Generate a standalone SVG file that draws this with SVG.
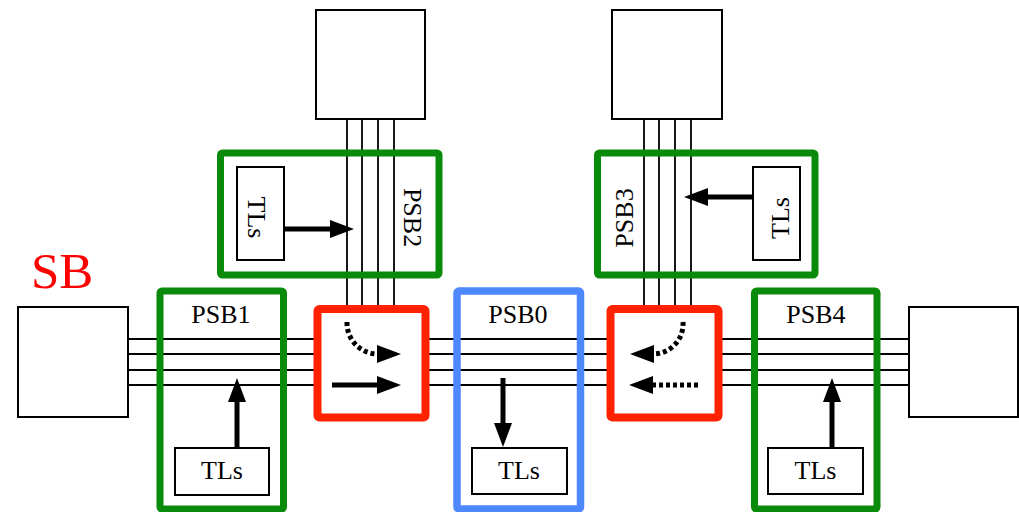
<svg xmlns="http://www.w3.org/2000/svg" width="1019" height="512" viewBox="0 0 1019 512">
<style>
  .wire { stroke: #000; stroke-width: 1.8; fill: none; }
  .blk { fill: #fff; stroke: #000; stroke-width: 2; }
  .tl { fill: #fff; stroke: #000; stroke-width: 2; }
  .green { fill: none; stroke: #0a8a0a; stroke-width: 7; }
  .red { fill: #fff; stroke: #ff2200; stroke-width: 8; }
  .blue { fill: none; stroke: #4d88ff; stroke-width: 7.5; }
  .lbl { font-family: "Liberation Serif", "Times New Roman", serif; font-size: 26px; fill: #000; text-anchor: middle; }
  .arr { stroke: #000; stroke-width: 5; fill: none; marker-end: url(#head); }
  .dot { stroke: #000; stroke-width: 5; fill: none; stroke-dasharray: 4 3; marker-end: url(#head); }
</style>
<defs>
  <marker id="head" markerUnits="userSpaceOnUse" markerWidth="26" markerHeight="20" viewBox="0 -10 26 20" refX="1" refY="0" orient="auto">
    <path d="M0,-9 L24,0 L0,9 Z" fill="#000"/>
  </marker>
</defs>
<rect width="1019" height="512" fill="#fff"/>

<g id="connectors">
  <path class="wire" d="M128,339 H909 M128,354 H909 M128,370 H909 M128,385 H909"/>
  <path class="wire" d="M347,119 V309 M362,119 V309 M378,119 V309 M394,119 V309"/>
  <path class="wire" d="M644,119 V309 M659,119 V309 M675,119 V309 M691,119 V309"/>
</g>

<g id="sb-label">
  <text x="31" y="288" font-family="Liberation Serif, Times New Roman, serif" font-size="51" fill="#ff0000">SB</text>
</g>

<g id="top-left-block"><rect class="blk" x="316" y="10" width="109" height="109"/></g>
<g id="top-right-block"><rect class="blk" x="612" y="10" width="110" height="109"/></g>
<g id="left-block"><rect class="blk" x="18" y="307" width="110" height="110"/></g>
<g id="right-block"><rect class="blk" x="909" y="307" width="109" height="110"/></g>

<g id="psb2">
  <rect class="green" x="220.5" y="153" width="218.5" height="122" rx="2"/>
  <rect class="tl" x="237" y="167" width="47" height="93"/>
  <text class="lbl" transform="translate(248,217.5) rotate(90)">TLs</text>
  <text class="lbl" transform="translate(404,217.5) rotate(90)">PSB2</text>
  <path class="arr" d="M284,229 H331"/>
</g>

<g id="psb3">
  <rect class="green" x="597.5" y="153" width="217.5" height="122" rx="2"/>
  <rect class="tl" x="753" y="167" width="47" height="93"/>
  <text class="lbl" transform="translate(789,218) rotate(-90)">TLs</text>
  <text class="lbl" transform="translate(632.5,218) rotate(-90)">PSB3</text>
  <path class="arr" d="M753,197 H707"/>
</g>

<g id="psb1">
  <rect class="green" x="160" y="291" width="123.5" height="218" rx="2"/>
  <text class="lbl" x="221" y="323">PSB1</text>
  <rect class="tl" x="175" y="448" width="94" height="47"/>
  <text class="lbl" x="222" y="479">TLs</text>
  <path class="arr" d="M237,448 V401"/>
</g>

<g id="switch-left">
  <rect class="red" x="317.5" y="309" width="108" height="108.5" rx="2"/>
  <path class="dot" d="M347,322 A31,31 0 0 0 378,354"/>
  <path class="arr" d="M332,385 H378"/>
</g>

<g id="psb0">
  <rect class="blue" x="457" y="291" width="123.5" height="218" rx="2"/>
  <text class="lbl" x="518" y="323">PSB0</text>
  <rect class="tl" x="472" y="448" width="95" height="46"/>
  <text class="lbl" x="519" y="479">TLs</text>
  <path class="arr" d="M503,378 V424"/>
</g>

<g id="switch-right">
  <rect class="red" x="610.5" y="309" width="108" height="108.5" rx="2"/>
  <path class="dot" d="M683,322 A30,30 0 0 1 653,354"/>
  <path class="dot" d="M698,385 H652"/>
</g>

<g id="psb4">
  <rect class="green" x="754.5" y="291" width="122.5" height="218" rx="2"/>
  <text class="lbl" x="816" y="323">PSB4</text>
  <rect class="tl" x="768" y="448" width="95" height="46"/>
  <text class="lbl" x="815.5" y="479">TLs</text>
  <path class="arr" d="M832,447 V401"/>
</g>
</svg>
